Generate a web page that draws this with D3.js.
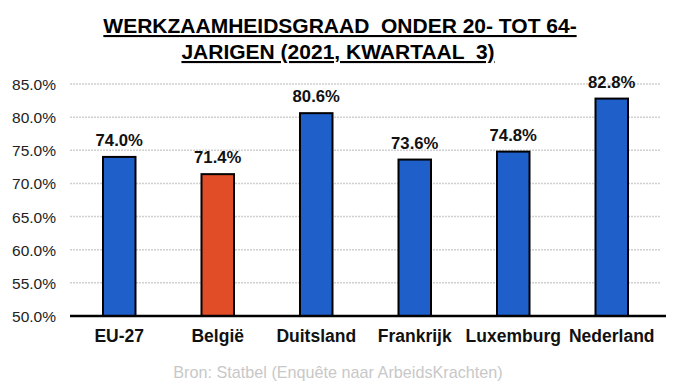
<!DOCTYPE html>
<meta charset="utf-8">
<style>
body { margin: 0; background: #fff; }
text { font-family: "Liberation Sans", Arial, sans-serif; }
.grid line { stroke: #d0d0d0; stroke-width: 1.5px; stroke-dasharray: 2,1; }
.title { font-weight: bold; font-size: 21px; text-decoration: underline; fill: #000; }
.tick text { font-size: 15.5px; fill: #222; }
.val { font-weight: bold; font-size: 16.7px; fill: #111; }
.cat { font-weight: bold; font-size: 17.5px; fill: #111; }
.src { font-size: 16.2px; fill: #c8c8c8; }
</style>
<body>
<script src="https://d3js.org/d3.v7.min.js"></script>
<script>
var categories = ["EU-27", "België", "Duitsland", "Frankrijk", "Luxemburg", "Nederland"];
var values = [74.0, 71.4, 80.6, 73.6, 74.8, 82.8];
var colors = ["#1f5fc9", "#e04d26", "#1f5fc9", "#1f5fc9", "#1f5fc9", "#1f5fc9"];
var yTicks = [50, 55, 60, 65, 70, 75, 80, 85];

var width = 680,
    height = 385;

var svg = d3.select("body").append("svg")
    .attr("width", width)
    .attr("height", height);

var x = d3.scaleBand()
    .domain(categories)
    .range([70, 661])
    .paddingInner(0.67)
    .paddingOuter(0.335);

var y = d3.scaleLinear()
    .domain([50, 85])
    .range([316, 84]);

// gridlines
svg.append("g")
    .attr("class", "grid")
  .selectAll("line")
    .data(yTicks.slice(1))
  .enter().append("line")
    .attr("x1", 70)
    .attr("x2", 661)
    .attr("y1", function(d) { return y(d); })
    .attr("y2", function(d) { return y(d); });

// y axis labels
var yAxis = d3.axisLeft(y)
    .tickValues(yTicks)
    .tickSize(0)
    .tickPadding(0)
    .tickFormat(function(d) { return d.toFixed(1) + "%"; });

svg.append("g")
    .attr("transform", "translate(56,0)")
    .call(yAxis)
    .call(function(g) { g.select(".domain").remove(); })
    .selectAll("text")
    .attr("dy", "0.35em");

// bars
svg.selectAll(".bar")
    .data(values)
  .enter().append("rect")
    .attr("class", "bar")
    .attr("x", function(d, i) { return x(categories[i]); })
    .attr("width", x.bandwidth())
    .attr("y", function(d) { return y(d); })
    .attr("height", function(d) { return y(50) - y(d); })
    .attr("fill", function(d, i) { return colors[i]; })
    .attr("stroke", "#000")
    .attr("stroke-width", 2);

// baseline
svg.append("line")
    .attr("x1", 70)
    .attr("x2", 666)
    .attr("y1", y(50))
    .attr("y2", y(50))
    .attr("stroke", "#000")
    .attr("stroke-width", 2.5);

// value labels
svg.selectAll(".val")
    .data(values)
  .enter().append("text")
    .attr("class", "val")
    .attr("text-anchor", "middle")
    .attr("x", function(d, i) { return x(categories[i]) + x.bandwidth() / 2; })
    .attr("y", function(d) { return y(d) - 11; })
    .text(function(d) { return d.toFixed(1) + "%"; });

// category labels
svg.selectAll(".cat")
    .data(categories)
  .enter().append("text")
    .attr("class", "cat")
    .attr("text-anchor", "middle")
    .attr("x", function(d) { return x(d) + x.bandwidth() / 2; })
    .attr("y", 342)
    .text(function(d) { return d; });

// title
svg.append("text")
    .attr("class", "title")
    .attr("x", 340)
    .attr("y", 33)
    .attr("text-anchor", "middle")
    .attr("xml:space", "preserve")
    .text("WERKZAAMHEIDSGRAAD  ONDER 20- TOT 64-");

svg.append("text")
    .attr("class", "title")
    .attr("x", 338)
    .attr("y", 59)
    .attr("text-anchor", "middle")
    .attr("xml:space", "preserve")
    .text("JARIGEN (2021, KWARTAAL  3)");

// source
svg.append("text")
    .attr("class", "src")
    .attr("x", 338)
    .attr("y", 378)
    .attr("text-anchor", "middle")
    .text("Bron: Statbel (Enquête naar ArbeidsKrachten)");
</script>
</body>
